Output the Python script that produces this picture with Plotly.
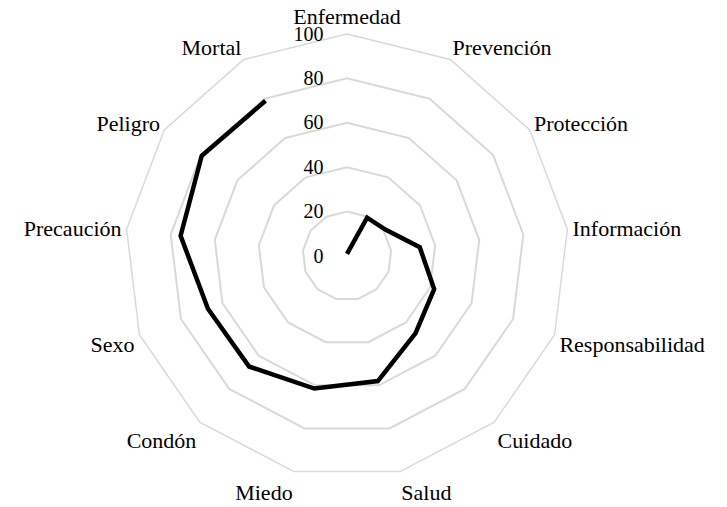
import plotly.graph_objects as go

categories = ["Enfermedad", "Prevención", "Protección", "Información", "Responsabilidad",
              "Cuidado", "Salud", "Miedo", "Condón", "Sexo", "Precaución", "Peligro", "Mortal"]
values = [1, 19.5, 21, 33, 42, 46.5, 58, 61.5, 66.5, 67, 75.5, 79.5, 79]
radial_ticks = [0, 20, 40, 60, 80, 100]

W, H = 727, 507
cx, cy, R = 347, 256, 222

fig = go.Figure()
fig.add_trace(go.Scatterpolar(
    r=values, theta=categories, mode="lines",
    line=dict(color="black", width=4.5),
    showlegend=False, hoverinfo="skip"))

fam = "Liberation Serif, Times New Roman, serif"
afont = dict(family=fam, size=22, color="black")
rfont = dict(family=fam, size=20, color="black")
fig.update_layout(
    width=W, height=H,
    margin=dict(l=0, r=0, t=0, b=0),
    paper_bgcolor="white", plot_bgcolor="white",
    font=afont,
    polar=dict(
        domain=dict(x=[(cx - R) / W, (cx + R) / W], y=[1 - (cy + R) / H, 1 - (cy - R) / H]),
        bgcolor="white",
        gridshape="linear",
        angularaxis=dict(direction="clockwise", rotation=90, showgrid=False,
                         showline=True, linecolor="#d9d9d9", linewidth=1.5,
                         ticks="", tickfont=afont, categoryorder="array",
                         categoryarray=categories),
        radialaxis=dict(range=[0, 100], tickvals=radial_ticks, angle=90, tickangle=90,
                        showline=False, ticks="outside", ticklen=16,
                        tickcolor="rgba(0,0,0,0)",
                        gridcolor="#d9d9d9", gridwidth=1.5,
                        tickfont=rfont, side="counterclockwise"),
    ),
)
fig.write_html("out.html", config={"displayModeBar": False},
               post_script="document.body.style.margin='0';")
